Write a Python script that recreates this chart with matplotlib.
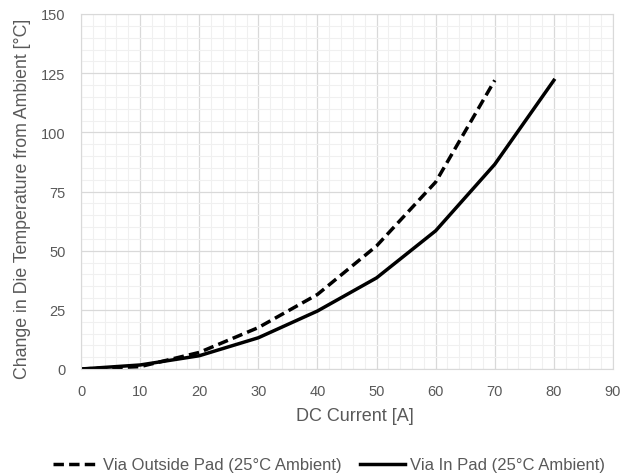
import numpy as np
import matplotlib.pyplot as plt
from matplotlib.ticker import MultipleLocator

plt.rcParams['font.family'] = ['Liberation Sans', 'DejaVu Sans']

# DC current [A]
current_outside = [0, 10, 20, 30, 40, 50, 60, 70]
temp_outside = [0, 1.0, 7.0, 17.5, 31.5, 52, 79, 122]

current_inpad = [0, 10, 20, 30, 40, 50, 60, 70, 80]
temp_inpad = [0, 1.7, 5.6, 13.2, 24.5, 38.5, 58.4, 86.5, 122]

label_outside = 'Via Outside Pad (25°C Ambient)'
label_inpad = 'Via In Pad (25°C Ambient)'

fig = plt.figure(figsize=(6.37, 4.77), dpi=100)
ax = fig.add_axes([81/637, 107/477, 532/637, 355/477])

ax.plot(current_outside, temp_outside, color='black', lw=2.5, ls=(0, (3.0, 1.5)),
        label=label_outside)
ax.plot(current_inpad, temp_inpad, color='black', lw=2.5, label=label_inpad)

ax.set_xlim(0, 90)
ax.set_ylim(0, 150)
ax.xaxis.set_major_locator(MultipleLocator(10))
ax.xaxis.set_minor_locator(MultipleLocator(2))
ax.yaxis.set_major_locator(MultipleLocator(25))
ax.yaxis.set_minor_locator(MultipleLocator(5))
ax.grid(which='major', color='#d9d9d9', lw=0.9)
ax.grid(which='minor', color='#f0f0f0', lw=0.8)
ax.set_axisbelow(True)
for s in ax.spines.values():
    s.set_color('#d9d9d9')
ax.tick_params(which='both', length=0, colors='#595959', labelsize=10.5, pad=11)

ax.set_xlabel('DC Current [A]', fontsize=13, color='#595959')
ax.xaxis.set_label_coords(0.514, -0.108)
ax.set_ylabel('Change in Die Temperature from Ambient [°C]', fontsize=12.8,
              color='#595959')
ax.yaxis.set_label_coords(-0.094, 0.482)

fig.legend(loc='center', bbox_to_anchor=(329/637, 1 - 466/477), ncol=2,
           frameon=False, fontsize=12, handlelength=2.7, handletextpad=0.3,
           columnspacing=1.1, labelcolor='#595959')

fig.savefig('out.png', dpi=100)
